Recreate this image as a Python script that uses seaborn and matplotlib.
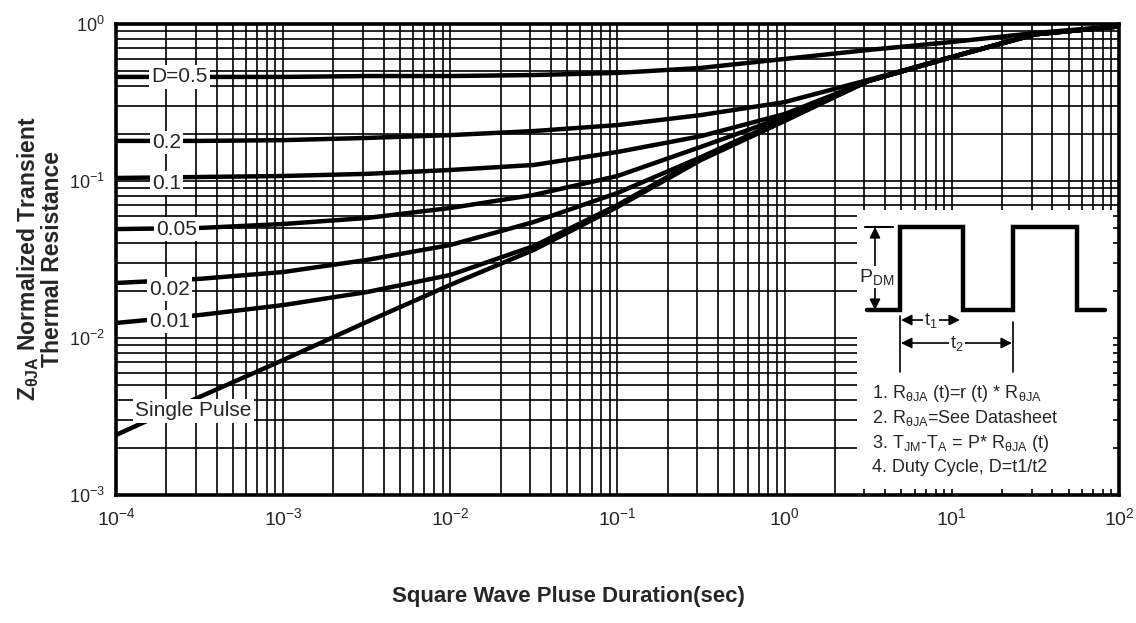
import numpy as np
import pandas as pd
import seaborn as sns
import matplotlib.pyplot as plt
from matplotlib.ticker import LogLocator, NullFormatter

# pulse duration (sec), read every half decade
t = [1e-4, 3.16e-4, 1e-3, 3.16e-3, 1e-2, 3.16e-2, 1e-1, 3.16e-1, 1, 3.16, 10, 31.6, 100]

# normalized transient thermal resistance for each duty cycle
z_05 = [0.460, 0.460, 0.460, 0.466, 0.466, 0.473, 0.488, 0.525, 0.599, 0.683, 0.768, 0.876, 0.971]
z_02 = [0.180, 0.180, 0.182, 0.188, 0.196, 0.208, 0.227, 0.263, 0.318, 0.440, 0.616, 0.860, 0.965]
z_01 = [0.1045, 0.106, 0.1076, 0.111, 0.1175, 0.1265, 0.153, 0.193, 0.267, 0.433, 0.616, 0.860, 0.965]
z_005 = [0.0494, 0.0502, 0.0532, 0.0581, 0.0673, 0.0815, 0.1076, 0.165, 0.256, 0.433, 0.616, 0.860, 0.965]
z_002 = [0.0224, 0.0238, 0.0263, 0.0314, 0.0391, 0.0548, 0.0839, 0.142, 0.248, 0.433, 0.616, 0.860, 0.965]
z_001 = [0.01246, 0.0140, 0.0162, 0.0196, 0.0252, 0.0385, 0.0703, 0.140, 0.245, 0.433, 0.616, 0.860, 0.965]
z_single = [0.00241, 0.00421, 0.00724, 0.01265, 0.0218, 0.0364, 0.0683, 0.136, 0.241, 0.433, 0.616, 0.860, 0.965]

curve_names = ['D=0.5', '0.2', '0.1', '0.05', '0.02', '0.01', 'Single Pulse']
curve_values = [z_05, z_02, z_01, z_005, z_002, z_001, z_single]

# where each curve label sits (x, y)
label_x = [2.4e-4, 2.0e-4, 2.0e-4, 2.3e-4, 2.1e-4, 2.1e-4, 2.9e-4]
label_y = [0.46, 0.175, 0.097, 0.0494, 0.0205, 0.0128, 0.00343]

# decade ticks on both axes
x_ticks = [1e-4, 1e-3, 1e-2, 1e-1, 1e0, 1e1, 1e2]
y_ticks = [1e-3, 1e-2, 1e-1, 1e0]

notes = [r'1. R$_{\theta JA}$ (t)=r (t) * R$_{\theta JA}$',
         r'2. R$_{\theta JA}$=See Datasheet',
         r'3. T$_{JM}$-T$_{A}$ = P* R$_{\theta JA}$ (t)',
         '4. Duty Cycle, D=t1/t2']

# build long table for seaborn
rows = []
for name, vals in zip(curve_names, curve_values):
    for ti, zi in zip(t, vals):
        rows.append({'t': ti, 'z': zi, 'D': name})
df = pd.DataFrame(rows)

sns.set_style('white')
font = ['Liberation Sans', 'DejaVu Sans']
plt.rcParams['font.family'] = font
plt.rcParams['mathtext.fontset'] = 'custom'
plt.rcParams['mathtext.rm'] = 'Liberation Sans'
plt.rcParams['mathtext.default'] = 'regular'

fig = plt.figure(figsize=(11.36, 6.23), dpi=100)
ax = fig.add_axes([0.1021, 0.2055, 0.8829, 0.756])

sns.lineplot(data=df, x='t', y='z', hue='D', palette=['black'] * 7,
             legend=False, linewidth=3.2, ax=ax, zorder=3, sort=True)

ax.set_xscale('log')
ax.set_yscale('log')
ax.set_xticks(x_ticks)
ax.set_yticks(y_ticks)
ax.set_xlim(1e-4, 1e2)
ax.set_ylim(1e-3, 1e0)

ax.xaxis.set_minor_locator(LogLocator(base=10, subs=np.arange(2, 10), numticks=20))
ax.yaxis.set_minor_locator(LogLocator(base=10, subs=np.arange(2, 10), numticks=20))
ax.xaxis.set_minor_formatter(NullFormatter())
ax.yaxis.set_minor_formatter(NullFormatter())
ax.grid(True, which='both', color='black', linewidth=1.2)
ax.tick_params(which='both', length=0)
ax.tick_params(axis='x', pad=9, labelsize=14)
ax.tick_params(axis='y', pad=8, labelsize=13)
for s in ax.spines.values():
    s.set_linewidth(2.6)
    s.set_color('black')
    s.set_zorder(6)
ax.set_xlabel('')
ax.set_ylabel('')

for name, lx, ly in zip(curve_names, label_x, label_y):
    ax.text(lx, ly, name, fontsize=15, ha='center', va='center', zorder=4,
            bbox=dict(facecolor='white', edgecolor='none', pad=1.5))

fig.text(0.5, 0.042, 'Square Wave Pluse Duration(sec)', fontsize=16,
         fontweight='bold', ha='center', va='center')
fig.text(0.025, 0.585, r'Z$_{\theta JA}$ Normalized Transient', fontsize=16.5,
         fontweight='bold', rotation=90, ha='center', va='center')
fig.text(0.046, 0.585, 'Thermal Resistance', fontsize=16.5,
         fontweight='bold', rotation=90, ha='center', va='center')

# inset with the square wave schematic, drawn in pixel-like layout units
ins = ax.inset_axes([0.7388, 0.0127, 0.2552, 0.5923])
ins.set_facecolor('white')
ins.set_xlim(857, 1113)
ins.set_ylim(489, 210)
ins.set_xticks([])
ins.set_yticks([])
for s in ins.spines.values():
    s.set_visible(False)

wave_x = [867, 900, 900, 963, 963, 1013, 1013, 1077, 1077, 1105]
wave_y = [310, 310, 227, 227, 310, 310, 227, 227, 310, 310]
ins.plot(wave_x, wave_y, color='black', linewidth=3.2, solid_joinstyle='miter')
ins.plot([865, 893], [227, 227], color='black', linewidth=1.5)
ins.annotate('', xy=(875, 227), xytext=(875, 310),
             arrowprops=dict(arrowstyle='<|-|>', color='black', lw=1.2, mutation_scale=16,
                             shrinkA=0, shrinkB=0))
ins.text(877, 277, 'P$_{DM}$', fontsize=14, ha='center', va='center',
         bbox=dict(facecolor='white', edgecolor='none', pad=1))
ins.plot([900, 900], [316, 372], color='black', linewidth=1.2)
ins.plot([1013, 1013], [322, 372], color='black', linewidth=1.2)
ins.annotate('', xy=(901, 320), xytext=(960, 320),
             arrowprops=dict(arrowstyle='<|-|>', color='black', lw=1.2, mutation_scale=16,
                             shrinkA=0, shrinkB=0))
ins.text(931, 320, 't$_1$', fontsize=13, ha='center', va='center',
         bbox=dict(facecolor='white', edgecolor='none', pad=1))
ins.annotate('', xy=(901, 343), xytext=(1012, 343),
             arrowprops=dict(arrowstyle='<|-|>', color='black', lw=1.2, mutation_scale=16,
                             shrinkA=0, shrinkB=0))
ins.text(957, 343, 't$_2$', fontsize=13, ha='center', va='center',
         bbox=dict(facecolor='white', edgecolor='none', pad=1))

note_y = [393, 418, 444, 468]
for txt, ny in zip(notes, note_y):
    ins.text(872, ny, txt, fontsize=13, ha='left', va='center')

fig.savefig('out.png', dpi=100)
